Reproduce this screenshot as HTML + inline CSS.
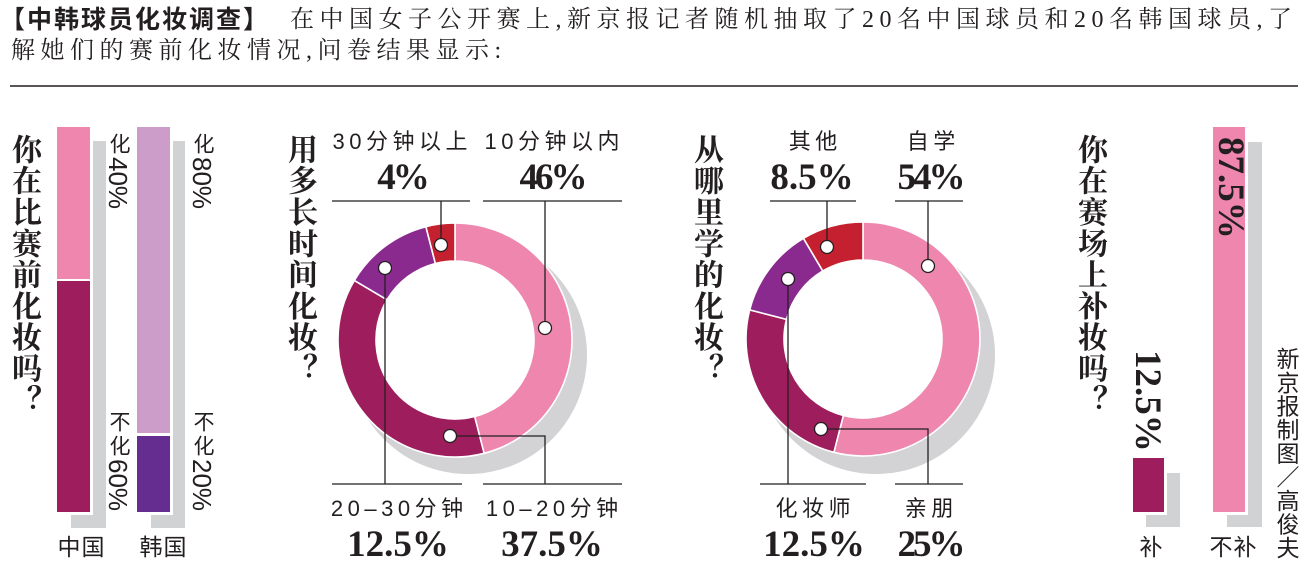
<!DOCTYPE html>
<html lang="zh">
<head>
<meta charset="utf-8">
<style>
  html,body{margin:0;padding:0;background:#fff;}
  body{width:1312px;height:573px;position:relative;overflow:hidden;color:#231f20;}
  .a{position:absolute;white-space:nowrap;}
  .vt{position:absolute;writing-mode:vertical-rl;text-orientation:mixed;
      font-family:"Noto Serif CJK SC","Liberation Serif",serif;font-weight:700;
      font-size:30px;line-height:30px;width:30px;letter-spacing:1.3px;color:#231f20;white-space:nowrap;}
  .vl{position:absolute;writing-mode:vertical-rl;text-orientation:mixed;
      font-family:"Liberation Sans","Noto Sans CJK SC",sans-serif;
      font-size:26px;line-height:22px;width:22px;color:#231f20;white-space:nowrap;}
  .vl span{font-size:21px;letter-spacing:3px;}
  .lb{position:absolute;text-align:center;width:160px;
      font-family:"Liberation Sans","Noto Sans CJK SC",sans-serif;
      font-size:22px;line-height:22px;letter-spacing:4.5px;text-indent:4.5px;white-space:nowrap;color:#231f20;}
  .num{position:absolute;text-align:center;width:160px;
      font-family:"Liberation Serif","Noto Serif CJK SC",serif;font-weight:700;
      font-size:37px;line-height:37px;white-space:nowrap;color:#231f20;}
  .bl{position:absolute;text-align:center;width:80px;
      font-family:"Liberation Sans","Noto Sans CJK SC",sans-serif;
      font-size:23px;line-height:23px;letter-spacing:1px;text-indent:1px;white-space:nowrap;color:#231f20;}
  .rot{position:absolute;transform-origin:0 0;transform:rotate(90deg);
      font-family:"Liberation Serif","Noto Serif CJK SC",serif;font-weight:700;
      font-size:37px;line-height:37px;white-space:nowrap;color:#231f20;}
</style>
</head>
<body>
<svg width="1312" height="573" style="position:absolute;left:0;top:0">
  <line x1="10" y1="86" x2="1298" y2="86" stroke="#231f20" stroke-width="1.6"/>

  <!-- China bar -->
  <rect x="71" y="141" width="35" height="387" fill="#d1d2d4"/>
  <rect x="54" y="124" width="39" height="391" fill="#fff"/>
  <rect x="57" y="127" width="33" height="152" fill="#ee86ae"/>
  <rect x="57" y="281" width="33" height="231" fill="#9e1d5d"/>
  <!-- Korea bar -->
  <rect x="151" y="141" width="34" height="387" fill="#d1d2d4"/>
  <rect x="134" y="124" width="39" height="391" fill="#fff"/>
  <rect x="137" y="127" width="33" height="306" fill="#cd9dc9"/>
  <rect x="137" y="436" width="33" height="76" fill="#662d91"/>

  <!-- Right bars -->
  <rect x="1146" y="473" width="34" height="54" fill="#d1d2d4"/>
  <rect x="1130" y="455" width="37" height="60" fill="#fff"/>
  <rect x="1133" y="458" width="31" height="54" fill="#9e1d5d"/>
  <rect x="1227" y="142" width="35" height="385" fill="#d1d2d4"/>
  <rect x="1210" y="124" width="38" height="391" fill="#fff"/>
  <rect x="1213" y="127" width="32" height="385" fill="#ee86ae"/>

  <!-- Donut 1 -->
  <circle cx="468" cy="355" r="119" fill="#d3d3d5"/>
  <circle cx="455" cy="340" r="80" fill="#fff"/>
  <g stroke="#fff" stroke-width="1.6" stroke-linejoin="round">
    <path d="M455,223 A117,117 0 0 1 484.10,453.33 L474.65,416.52 A79,79 0 0 0 455,261 Z" fill="#ee86ae"/>
    <path d="M484.10,453.33 A117,117 0 0 1 354.30,280.45 L387.00,299.79 A79,79 0 0 0 474.65,416.52 Z" fill="#9e1d5d"/>
    <path d="M354.30,280.45 A117,117 0 0 1 425.90,226.67 L435.35,263.48 A79,79 0 0 0 387.00,299.79 Z" fill="#8b2a8e"/>
    <path d="M425.90,226.67 A117,117 0 0 1 455,223 L455,261 A79,79 0 0 0 435.35,263.48 Z" fill="#c5202f"/>
  </g>
  <g stroke="#231f20" stroke-width="1.3" fill="none">
    <line x1="332" y1="201" x2="470" y2="201"/>
    <line x1="441" y1="201" x2="441" y2="245"/>
    <line x1="483" y1="201" x2="622" y2="201"/>
    <line x1="545" y1="201" x2="545" y2="328"/>
    <line x1="332" y1="484" x2="462" y2="484"/>
    <line x1="385" y1="268" x2="385" y2="484"/>
    <line x1="483" y1="484" x2="622" y2="484"/>
    <polyline points="450,436 545,436 545,484"/>
  </g>
  <g stroke="#231f20" stroke-width="1.3" fill="#fff">
    <circle cx="441" cy="245" r="6.5"/>
    <circle cx="545" cy="328" r="6.5"/>
    <circle cx="385" cy="268" r="6.5"/>
    <circle cx="450" cy="436" r="6.5"/>
  </g>

  <!-- Donut 2 -->
  <circle cx="876" cy="355" r="119" fill="#d3d3d5"/>
  <circle cx="863" cy="339" r="80" fill="#fff"/>
  <g stroke="#fff" stroke-width="1.6" stroke-linejoin="round">
    <path d="M863,222 A117,117 0 1 1 833.90,452.33 L843.35,415.52 A79,79 0 1 0 863,260 Z" fill="#ee86ae"/>
    <path d="M833.90,452.33 A117,117 0 0 1 749.67,309.90 L786.48,319.35 A79,79 0 0 0 843.35,415.52 Z" fill="#9e1d5d"/>
    <path d="M749.67,309.90 A117,117 0 0 1 803.45,238.30 L822.79,271.00 A79,79 0 0 0 786.48,319.35 Z" fill="#8b2a8e"/>
    <path d="M803.45,238.30 A117,117 0 0 1 863,222 L863,260 A79,79 0 0 0 822.79,271.00 Z" fill="#c5202f"/>
  </g>
  <g stroke="#231f20" stroke-width="1.3" fill="none">
    <line x1="770" y1="201" x2="856" y2="201"/>
    <line x1="827" y1="201" x2="827" y2="247"/>
    <line x1="895" y1="201" x2="963" y2="201"/>
    <line x1="928" y1="201" x2="928" y2="266"/>
    <line x1="760" y1="484" x2="866" y2="484"/>
    <line x1="788" y1="279" x2="788" y2="484"/>
    <line x1="895" y1="484" x2="963" y2="484"/>
    <polyline points="821,429 928,429 928,484"/>
  </g>
  <g stroke="#231f20" stroke-width="1.3" fill="#fff">
    <circle cx="827" cy="247" r="6.5"/>
    <circle cx="928" cy="266" r="6.5"/>
    <circle cx="788" cy="279" r="6.5"/>
    <circle cx="821" cy="429" r="6.5"/>
  </g>
</svg>

<!-- Header -->
<div class="a" style="left:0;top:5px;font-family:'Liberation Sans','Noto Sans CJK SC',sans-serif;font-weight:700;font-size:25px;line-height:31px;letter-spacing:2px;">【中韩球员化妆调查】</div>
<div class="a" style="left:290px;top:5px;font-family:'Liberation Serif','Noto Serif CJK SC',serif;font-size:24px;line-height:31px;letter-spacing:5.5px;">在中国女子公开赛上,新京报记者随机抽取了20名中国球员和20名韩国球员,了</div>
<div class="a" style="left:11px;top:36px;font-family:'Liberation Serif','Noto Serif CJK SC',serif;font-size:24px;line-height:31px;letter-spacing:5.5px;">解她们的赛前化妆情况,问卷结果显示:</div>

<!-- Vertical titles -->
<div class="vt" style="left:12px;top:134px;">你在比赛前化妆吗？</div>
<div class="vt" style="left:288px;top:134px;">用多长时间化妆？</div>
<div class="vt" style="left:694px;top:134px;">从哪里学的化妆？</div>
<div class="vt" style="left:1078px;top:134px;">你在赛场上补妆吗？</div>

<!-- Bar labels -->
<div class="vl" style="left:107px;top:133px;"><span>化</span>40%</div>
<div class="vl" style="left:191px;top:133px;"><span>化</span>80%</div>
<div class="vl" style="left:107px;top:411px;"><span>不化</span>60%</div>
<div class="vl" style="left:191px;top:411px;"><span>不化</span>20%</div>

<!-- Donut 1 labels -->
<div class="lb" style="left:320px;top:131px;">30分钟以上</div>
<div class="num" style="left:322px;top:159px;letter-spacing:-3px;">4%</div>
<div class="lb" style="left:472px;top:131px;">10分钟以内</div>
<div class="num" style="left:472px;top:159px;letter-spacing:-3px;">46%</div>
<div class="lb" style="left:317px;top:498px;">20–30分钟</div>
<div class="num" style="left:318px;top:526px;">12.5%</div>
<div class="lb" style="left:472px;top:498px;">10–20分钟</div>
<div class="num" style="left:472px;top:526px;">37.5%</div>

<!-- Donut 2 labels -->
<div class="lb" style="left:733px;top:131px;">其他</div>
<div class="num" style="left:732px;top:159px;">8.5%</div>
<div class="lb" style="left:851px;top:131px;">自学</div>
<div class="num" style="left:850px;top:159px;letter-spacing:-3px;">54%</div>
<div class="lb" style="left:733px;top:498px;">化妆师</div>
<div class="num" style="left:734px;top:526px;">12.5%</div>
<div class="lb" style="left:849px;top:498px;">亲朋</div>
<div class="num" style="left:850px;top:526px;letter-spacing:-3px;">25%</div>

<!-- Rotated values on right -->
<div class="rot" style="left:1249px;top:137px;">87.5%</div>
<div class="rot" style="left:1166px;top:350px;">12.5%</div>

<!-- Bottom labels -->
<div class="bl" style="left:41px;top:536px;">中国</div>
<div class="bl" style="left:123px;top:536px;">韩国</div>
<div class="bl" style="left:1111px;top:536px;">补</div>
<div class="bl" style="left:1193px;top:536px;">不补</div>

<!-- Credit -->
<div class="a" style="left:1274px;top:347px;writing-mode:vertical-rl;text-orientation:mixed;font-family:'Liberation Sans','Noto Sans CJK SC',sans-serif;font-size:23px;line-height:23px;width:23px;letter-spacing:0.6px;">新京报制图／高俊夫</div>
</body>
</html>
